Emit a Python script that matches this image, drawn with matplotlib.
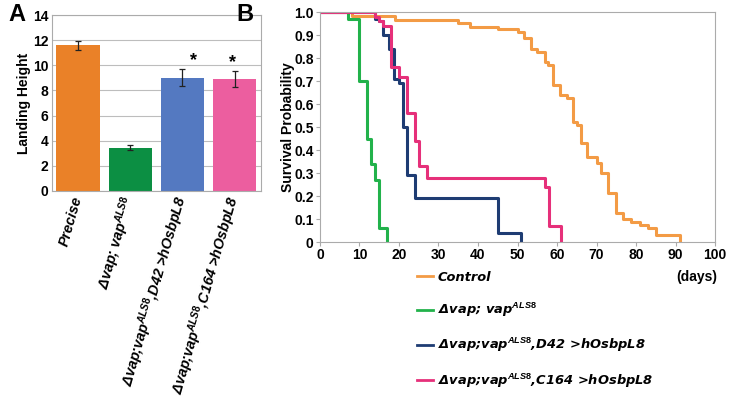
import numpy as np
import matplotlib.pyplot as plt
from matplotlib.lines import Line2D

plt.rcParams['font.family'] = ['Liberation Sans', 'DejaVu Sans']
plt.rcParams['mathtext.fontset'] = 'custom'
plt.rcParams['mathtext.it'] = 'Liberation Sans:italic:bold'
plt.rcParams['mathtext.rm'] = 'Liberation Sans:bold'
plt.rcParams['mathtext.default'] = 'it'

# panel A: landing height
genotypes = ["Precise", "Δvap; vap$^{ALS8}$",
             "Δvap;vap$^{ALS8}$,D42 >hOsbpL8",
             "Δvap;vap$^{ALS8}$,C164 >hOsbpL8"]
heights = [11.6, 3.45, 9.0, 8.9]
errors = [0.35, 0.2, 0.67, 0.62]
significant = [False, False, True, True]
bar_colors = ["#EA8128", "#0C8F43", "#5479C1", "#EC5E9F"]

# panel B: survival curves (day of each step, survival after the step)
control_days = [0, 8, 19, 35, 38, 45, 50, 51.6, 53.3, 55, 57, 57.8, 59, 60.8, 62.6,
                64, 65, 66, 67.7, 70, 71, 73, 75, 76.8, 78.7, 81, 83, 85, 91]
control_surv = [1.0, 0.985, 0.967, 0.955, 0.937, 0.926, 0.912, 0.886, 0.842, 0.825,
                0.784, 0.77, 0.683, 0.642, 0.625, 0.524, 0.511, 0.432, 0.371, 0.346,
                0.30, 0.214, 0.129, 0.10, 0.086, 0.074, 0.06, 0.03, 0.0]
als8_days = [0, 7, 10, 12, 13, 14, 15, 17]
als8_surv = [1.0, 0.97, 0.70, 0.45, 0.34, 0.27, 0.06, 0.0]
d42_days = [0, 14, 15, 16, 17.5, 18.7, 20, 21, 22, 24, 45, 51]
d42_surv = [1.0, 0.97, 0.96, 0.90, 0.84, 0.71, 0.69, 0.50, 0.29, 0.19, 0.04, 0.0]
c164_days = [0, 14, 15, 16, 18, 20, 22, 24, 25, 27, 57, 58, 61]
c164_surv = [1.0, 0.98, 0.96, 0.94, 0.76, 0.72, 0.56, 0.44, 0.33, 0.28, 0.24, 0.07, 0.0]

curve_labels = ["Control", "Δvap; vap$^{ALS8}$",
                "Δvap;vap$^{ALS8}$,D42 >hOsbpL8",
                "Δvap;vap$^{ALS8}$,C164 >hOsbpL8"]
curve_colors = ["#F39B45", "#22B24B", "#1E3C73", "#E6307A"]

fig = plt.figure(figsize=(7.32, 4.07), dpi=100)
spine_gray = "#ABABAB"

# ---- panel A
ax1 = fig.add_axes([0.071, 0.531, 0.285, 0.432])
x = np.arange(len(heights))
ax1.bar(x, heights, width=0.83, color=bar_colors, zorder=2)
ax1.errorbar(x, heights, yerr=errors, fmt="none", ecolor="#222222",
             elinewidth=0.9, capsize=2.5, capthick=0.9, zorder=3)
star_shift = [0, 0, 0.21, -0.04]
for i in range(len(heights)):
    if significant[i]:
        ax1.text(x[i] + star_shift[i], heights[i] + errors[i] + 0.05, "*",
                 ha="center", va="bottom", fontsize=13, fontweight="bold")
ax1.set_xlim(-0.5, 3.5)
ax1.set_ylim(0, 14)
ax1.set_yticks(range(0, 15, 2))
ax1.yaxis.grid(True, color="#BDBDBD", linewidth=0.8, zorder=0)
ax1.set_axisbelow(True)
for s in ax1.spines.values():
    s.set_color(spine_gray)
ax1.tick_params(axis="both", length=0, labelsize=10)
ax1.tick_params(axis="y", pad=2.5)
for lab in ax1.get_yticklabels():
    lab.set_fontweight("bold")
ax1.set_xticks(x)
ax1.set_xticklabels(genotypes, rotation=74, ha="right", va="center",
                    rotation_mode="anchor", fontsize=10.4, fontweight="bold",
                    fontstyle="italic")
ax1.tick_params(axis="x", pad=4)
ax1.set_ylabel("Landing Height", fontsize=10, fontweight="bold")
ax1.yaxis.set_label_coords(-0.1, 0.5)
fig.text(0.011, 0.965, "A", fontsize=17, fontweight="bold", va="center")

# ---- panel B
ax2 = fig.add_axes([0.437, 0.405, 0.540, 0.565])
series = [(control_days, control_surv), (als8_days, als8_surv),
          (d42_days, d42_surv), (c164_days, c164_surv)]
for (t, sv), c in zip(series, curve_colors):
    ax2.plot(t, sv, drawstyle="steps-post", color=c, linewidth=2.2)
ax2.set_xlim(0, 100)
ax2.set_ylim(0, 1.0)
ax2.set_xticks(range(0, 101, 10))
ax2.set_yticks(np.round(np.arange(0, 1.01, 0.1), 1))
ax2.set_yticklabels(["0"] + ["%.1f" % v for v in np.arange(0.1, 1.01, 0.1)])
for s in ax2.spines.values():
    s.set_color(spine_gray)
ax2.tick_params(axis="both", length=3, color=spine_gray, labelsize=10, pad=1.5)
for lab in ax2.get_xticklabels() + ax2.get_yticklabels():
    lab.set_fontweight("bold")
ax2.set_ylabel("Survival Probability", fontsize=10, fontweight="bold")
ax2.yaxis.set_label_coords(-0.062, 0.5)
fig.text(0.323, 0.965, "B", fontsize=17, fontweight="bold", va="center")

handles = [Line2D([], [], color=c, linewidth=2) for c in curve_colors]
leg = fig.legend(handles, curve_labels, loc="upper left",
                 bbox_to_anchor=(0.5697, 0.334), frameon=False, borderpad=0,
                 borderaxespad=0, handlelength=1.2, handletextpad=0.4,
                 labelspacing=1.3,
                 prop={"family": "DejaVu Sans", "weight": "bold",
                       "style": "italic", "size": 9.4})
fig.text(0.98, 0.319, "(days)", ha="right", va="center", fontsize=10,
         fontweight="bold")

fig.savefig("out.png", dpi=100)
